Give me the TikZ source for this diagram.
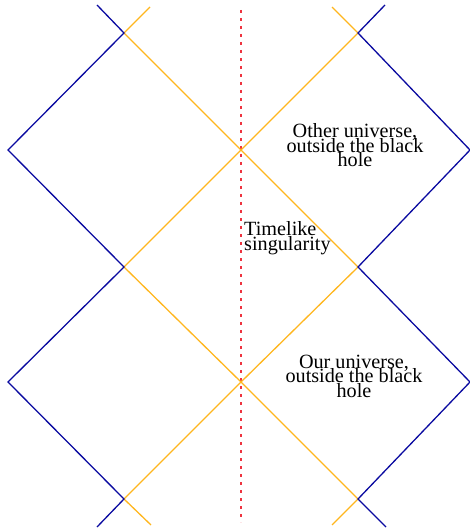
\documentclass[tikz,border=0pt]{standalone}
\usepackage{fontspec}
\setmainfont{Liberation Serif}
\usetikzlibrary{positioning}

\definecolor{horizonblue}{RGB}{10,10,160}
\definecolor{horizonorange}{RGB}{255,182,30}
\definecolor{singred}{RGB}{238,52,64}
\newcommand\diaglabelfont{\fontsize{20.2}{14.5}\selectfont\lineskiplimit=-50pt\relax}

\begin{document}
\begin{tikzpicture}[
    x=1pt, y=-1pt,
    blueline/.style={draw=horizonblue, line width=1.3pt},
    orangeline/.style={draw=horizonorange, line width=1.3pt},
    singline/.style={draw=singred, line width=2pt, dash pattern=on 3pt off 5pt},
    label/.style={inner sep=0pt, font=\diaglabelfont}
  ]
    \useasboundingbox (0,0) rectangle (470,529);
    \coordinate (bl0) at (97,5);
    \coordinate (bl1) at (124,33);
    \coordinate (bl2) at (8,150);
    \coordinate (bl3) at (124,267);
    \coordinate (bl4) at (8,382);
    \coordinate (bl5) at (124,499);
    \coordinate (bl6) at (97,527);
    \coordinate (br0) at (385,5);
    \coordinate (br1) at (358,33);
    \coordinate (br2) at (470,150);
    \coordinate (br3) at (358,267);
    \coordinate (br4) at (470,382);
    \coordinate (br5) at (358,499);
    \coordinate (br6) at (386,527);
    \coordinate (ot1) at (150,7);
    \coordinate (ot2) at (332,7);
    \coordinate (ob1) at (151,525);
    \coordinate (ob2) at (332,525);
    \coordinate (c1) at (241,150);
    \coordinate (c2) at (241,382);
    \coordinate (stop) at (241,10);
    \coordinate (sbot) at (241,522);
    \draw[singline] (stop) -- (sbot);
    \draw[orangeline] (ot1) -- (bl1) -- (c1) -- (br3) -- (c2) -- (bl5) -- (ob1);
    \draw[orangeline] (ot2) -- (br1) -- (c1) -- (bl3) -- (c2) -- (br5) -- (ob2);
    \draw[blueline] (bl0) -- (bl1) -- (bl2) -- (bl3) -- (bl4) -- (bl5) -- (bl6);
    \draw[blueline] (br0) -- (br1) -- (br2) -- (br3) -- (br4) -- (br5) -- (br6);
    \node[label, align=center, anchor=base] (other) at (355,167) {Other universe,\\outside the black\\hole};
    \node[label, align=left, anchor=base west] (sing) at (244,250) {Timelike\\singularity};
    \node[label, align=center, anchor=base] (ours) at (354,397) {Our universe,\\outside the black\\hole};
  \end{tikzpicture}
\end{document}
